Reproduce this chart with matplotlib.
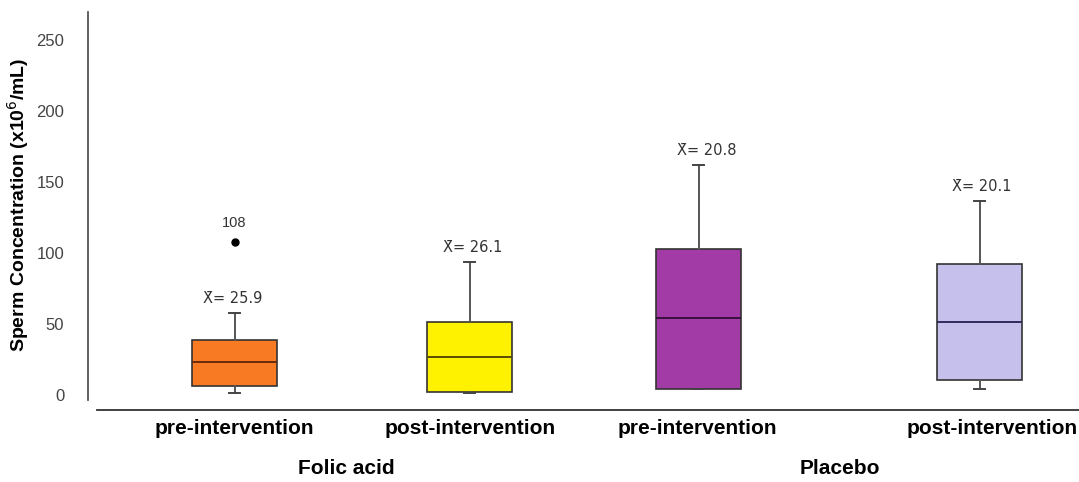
import matplotlib.pyplot as plt
from matplotlib.lines import Line2D

# box statistics per group (x10^6/mL)
labels = ["pre-intervention", "post-intervention", "pre-intervention", "post-intervention"]
groups = ["Folic acid", "Placebo"]
q1 = [6.3, 2.1, 4.2, 10.6]
median = [23.2, 26.8, 54.2, 51.4]
q3 = [38.7, 51.4, 102.8, 92.3]
whisker_lo = [1.4, 1.4, 4.2, 4.2]
whisker_hi = [57.7, 93.7, 162.0, 136.6]
outliers = [[108], [], [], []]
means = [25.9, 26.1, 20.8, 20.1]

colors = ["#F87A22", "#FFF200", "#A23BA5", "#C6C1EC"]
median_colors = ["#6B2A0C", "#5A4A00", "#3A0F3F", "#2E2A5E"]

plt.rcParams["font.family"] = ["Liberation Sans", "DejaVu Sans"]

fig = plt.figure(figsize=(10.79, 4.82), dpi=100)
# axes in pixel-like units: x 88..1079, y 12..400 (from top)
ax = fig.add_axes([88 / 1079, (482 - 400) / 482, (1079 - 88) / 1079, 388 / 482])
ax.set_xlim(0, 991)
ax.set_ylim(-3.5, 269.7)

positions = [234.5 - 88, 469.5 - 88, 698.5 - 88, 979.5 - 88]
stats = []
for i in range(4):
    stats.append({
        "q1": q1[i], "med": median[i], "q3": q3[i],
        "whislo": whisker_lo[i], "whishi": whisker_hi[i],
        "fliers": outliers[i], "mean": means[i],
    })

bp = ax.bxp(stats, positions=positions, widths=85, capwidths=11,
            patch_artist=True, showfliers=True,
            boxprops=dict(edgecolor="#333333", linewidth=1.2),
            whiskerprops=dict(color="#555555", linewidth=1.4),
            capprops=dict(color="#444444", linewidth=1.4),
            flierprops=dict(marker="o", markerfacecolor="black",
                            markeredgecolor="black", markersize=5))
for patch, c in zip(bp["boxes"], colors):
    patch.set_facecolor(c)
for line, c in zip(bp["medians"], median_colors):
    line.set_color(c)
    line.set_linewidth(1.4)

# mean annotations above the upper whisker
label_x = [233 - 88, 473 - 88, 707 - 88, 982 - 88]
for x, top, m in zip(label_x, whisker_hi, means):
    ax.text(x, top + 5, f"X\u0304= {m}", ha="center", va="bottom",
            fontsize=10.5, color="#333333", family="DejaVu Sans")
for x, fl in zip(positions, outliers):
    for v in fl:
        ax.text(x, v + 8, f"{v}", ha="center", va="bottom",
                fontsize=10.5, color="#333333")

ax.set_yticks([0, 50, 100, 150, 200, 250])
ax.tick_params(axis="y", length=0, pad=17, labelsize=12, labelcolor="#444444")
ax.set_xticks([])
for s in ["top", "right", "bottom"]:
    ax.spines[s].set_visible(False)
ax.spines["left"].set_color("#555555")
ax.spines["left"].set_linewidth(1.3)

fig.text(18 / 1079, 1 - 205 / 482, "Sperm Concentration (x10$^6$/mL)",
         rotation=90, ha="center", va="center", fontsize=14, fontweight="bold")

# baseline under the boxes
fig.add_artist(Line2D([97 / 1079, 1.0], [1 - 410 / 482] * 2,
                      color="#333333", linewidth=1.3))

cat_x = [234, 470, 697, 992]
for x, lab in zip(cat_x, labels):
    fig.text(x / 1079, 1 - 429 / 482, lab, ha="center", va="center",
             fontsize=15, fontweight="bold")
for x, g in zip([346, 840], groups):
    fig.text(x / 1079, 1 - 468 / 482, g, ha="center", va="center",
             fontsize=15, fontweight="bold")

fig.savefig("out.png", dpi=100)
